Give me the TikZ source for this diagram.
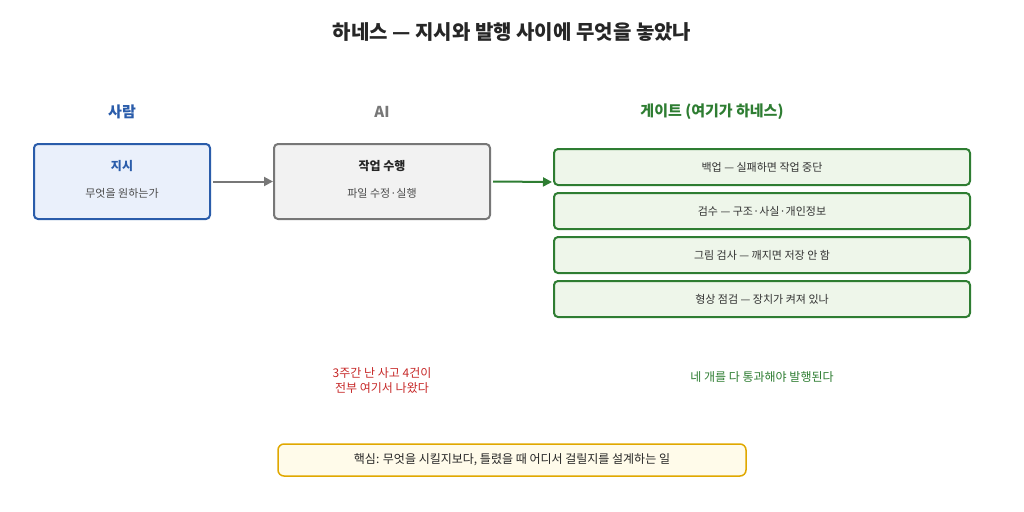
\documentclass[tikz,border=0pt]{standalone}
\usepackage{fontspec}
\setmainfont{Noto Sans CJK KR}
\usetikzlibrary{arrows.meta}
\definecolor{pblue}{HTML}{2A5CAA}
\definecolor{pbluef}{HTML}{EAF0FB}
\definecolor{pgray}{HTML}{777777}
\definecolor{pgrayf}{HTML}{F2F2F2}
\definecolor{pgreen}{HTML}{2E7D32}
\definecolor{pgreenf}{HTML}{EEF6EA}
\definecolor{pred}{HTML}{C62828}
\definecolor{pgold}{HTML}{E0A800}
\definecolor{pgoldf}{HTML}{FFFBEA}
\tikzset{
 box/.style={draw,line width=2pt,rounded corners=4pt},
 gate/.style={box,draw=pgreen,fill=pgreenf,minimum width=416pt,minimum height=36pt,font=\fontsize{11}{13}\selectfont,text=black!80},
 hdr/.style={font=\fontsize{15}{18}\selectfont\bfseries},
 arr/.style={line width=2pt,-{Triangle[length=9pt,width=9pt]}},
 sub/.style={font=\fontsize{11}{13}\selectfont,text=black!70}
}
\begin{document}
\begin{tikzpicture}[x=1pt,y=-1pt]
\useasboundingbox (0,0) rectangle (1024,511);
\node[font=\fontsize{20}{24}\selectfont\bfseries,text=black!85] (title) at (512,32) {하네스 — 지시와 발행 사이에 무엇을 놓았나};
\node[hdr,text=pblue] (h1) at (122,112) {사람};
\node[hdr,text=pgray] (h2) at (382,112) {AI};
\node[hdr,text=pgreen] (h3) at (712,112) {게이트 (여기가 하네스)};
\node[box,draw=pblue,fill=pbluef,minimum width=176pt,minimum height=75pt] (a) at (122,181.5) {};
\node[font=\fontsize{12}{14}\selectfont\bfseries,text=pblue] (at) at (122,166) {지시};
\node[sub] (as) at (122,193) {무엇을 원하는가};
\node[box,draw=pgray,fill=pgrayf,minimum width=216pt,minimum height=75pt] (b) at (382,181.5) {};
\node[font=\fontsize{12}{14}\selectfont\bfseries,text=black!85] (bt) at (382,166) {작업 수행};
\node[sub] (bs) at (382,193) {파일 수정·실행};
\node[gate] (g1) at (762,167) {백업 — 실패하면 작업 중단};
\node[gate] (g2) at (762,211) {검수 — 구조·사실·개인정보};
\node[gate] (g3) at (762,255) {그림 검사 — 깨지면 저장 안 함};
\node[gate] (g4) at (762,299) {형상 점검 — 장치가 켜져 있나};
\coordinate (gin) at (552,182);
\draw[arr,draw=pgray] (a.east) ++(2,0) -- (b.west);
\draw[arr,draw=pgreen] (b.east) ++(2,0) -- (gin);
\node[font=\fontsize{12}{15}\selectfont,text=pred,align=center] (r) at (382,381) {3주간 난 사고 4건이\\전부 여기서 나왔다};
\node[font=\fontsize{12}{15}\selectfont,text=pgreen] (gt) at (762,377) {네 개를 다 통과해야 발행된다};
\node[draw=pgold,fill=pgoldf,line width=1.5pt,rounded corners=6pt,minimum width=468pt,minimum height=32pt,font=\fontsize{12}{15}\selectfont,text=black!85] (k) at (512,460) {핵심: 무엇을 시킬지보다, 틀렸을 때 어디서 걸릴지를 설계하는 일};
\end{tikzpicture}
\end{document}
